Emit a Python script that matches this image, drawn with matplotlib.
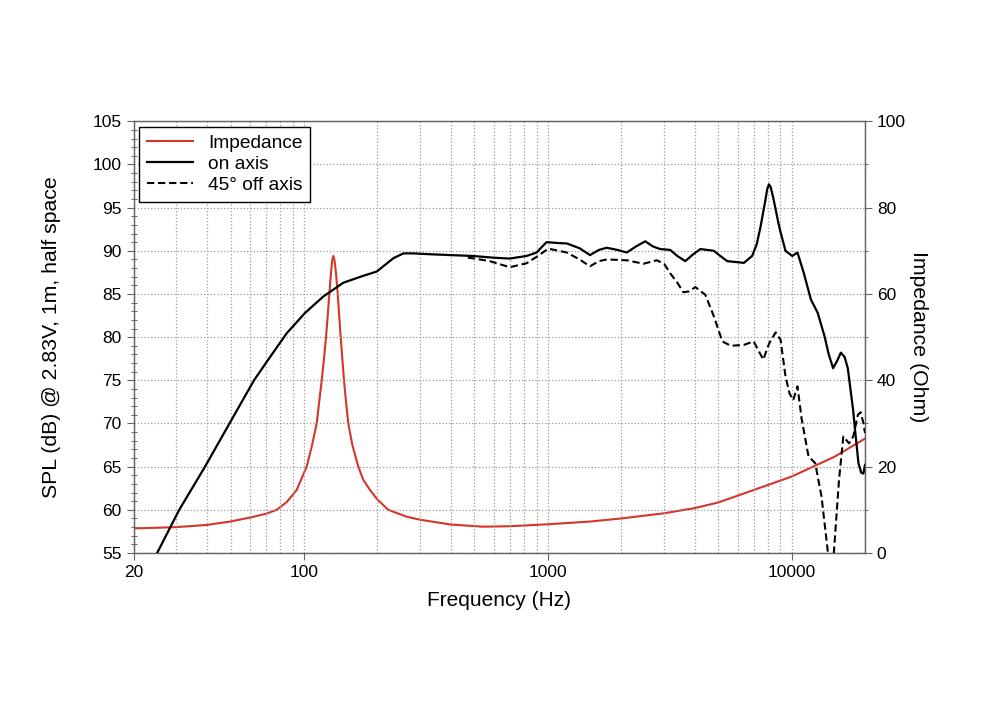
import matplotlib
matplotlib.use("Agg")
import matplotlib.pyplot as plt
from matplotlib.ticker import FixedLocator, LogLocator, MultipleLocator, NullFormatter
from matplotlib.lines import Line2D

plt.rcParams['font.family'] = ['Liberation Sans', 'DejaVu Sans']

# impedance (Ohm), right axis
imp_freq = [20, 25, 30, 40, 50, 60, 70, 77.3, 85, 93.4, 102.6, 107.5, 112.8, 115.5, 118.3,
            120.8, 123.2, 125.2, 127.1, 129.1, 130.6, 132, 133.5, 135.4, 137.6, 139.5,
            141.5, 143.7, 146, 148.8, 152, 158, 167.1, 175, 186.6, 200, 221.8, 263.9,
            300, 400, 540, 700, 1000, 1500, 2000, 3000, 4000, 5000, 7000, 10000, 15000, 20000]
imp_ohm = [5.7, 5.85, 6.0, 6.5, 7.3, 8.2, 9.1, 10, 11.8, 14.6, 20, 24.5, 30, 35, 40,
           45, 50, 55, 60, 64.8, 67.8, 68.8, 67.8, 64.8, 60, 55,
           50, 45, 40, 35, 30, 25, 20, 17, 14.6, 12.4, 10, 8.4,
           7.7, 6.6, 6.1, 6.2, 6.65, 7.3, 8.0, 9.2, 10.4, 11.7, 14.6, 17.7, 22.3, 26.5]

# on axis SPL (dB)
on_freq = [23, 25, 30.8, 39.3, 49.5, 62.4, 71.4, 85, 101, 120, 145, 175, 199, 233, 256,
           281, 329, 400, 493, 600, 698, 818, 900, 950, 989, 1100,
           1197, 1350, 1490, 1620, 1746, 1930, 2109, 2300, 2512, 2700, 2892, 3177, 3400,
           3665, 3950, 4228, 4800, 5100, 5447, 5900, 6372, 6890, 7200, 7465, 7800, 7950,
           8077, 8200, 8400, 8600, 8800, 9000, 9440, 10060, 10570, 11200, 12000, 12800,
           13650, 14200, 14800, 15400, 15920, 16500, 17000, 17870, 18200, 18800, 19300,
           19700, 20000]
on_db = [53.3, 55, 60, 65, 70, 75, 77.4, 80.45, 82.8, 84.7, 86.3, 87.1, 87.6, 89.15, 89.7,
         89.7, 89.6, 89.5, 89.4, 89.2, 89.1, 89.4, 89.8, 90.5, 91.0, 90.9,
         90.85, 90.3, 89.5, 90.1, 90.35, 90.1, 89.8, 90.5, 91.1, 90.5, 90.2, 90.1, 89.4,
         88.8, 89.6, 90.2, 90.0, 89.4, 88.8, 88.7, 88.6, 89.4, 90.8, 92.85, 95.8, 97.2,
         97.7, 97.4, 96.2, 94.8, 93.4, 92.2, 90.0, 89.4, 89.8, 87.5, 84.35, 82.8,
         80.1, 78.0, 76.4, 77.3, 78.2, 77.7, 76.4, 71.6, 69.3, 65.4, 64.3,
         64.2, 65.2]

# 45 deg off axis SPL (dB)
off_freq = [470, 501, 578, 698, 818, 900, 1005, 1197, 1350, 1490, 1620, 1746, 2109, 2470,
            2800, 3000, 3177, 3400, 3600, 3800, 4030, 4430, 4800, 5200, 5630, 6370, 6990,
            7300, 7650, 8100, 8600, 9010, 9440, 9800, 10150, 10570, 11000, 11730, 12500,
            13270, 14100, 14500, 14900, 15650, 16300, 17200, 17900, 18700, 19200, 19700, 20000]
off_db = [89.2, 89.1, 88.8, 88.1, 88.55, 89.3, 90.25, 89.8, 89.0, 88.2, 88.8, 89.0, 88.9, 88.5,
          88.9, 88.5, 87.4, 86.3, 85.2, 85.3, 85.8, 84.9, 82.4, 79.5, 79.0, 79.1, 79.5,
          78.5, 77.4, 79.3, 80.55, 79.7, 75.45, 73.5, 72.7, 74.3, 70.5, 66.2, 65.4,
          61.5, 55, 51, 55, 63.5, 68.5, 67.7, 68.5, 71.0, 71.3, 70.05, 68.9]

red = '#d6352c'
spine_c = '#666666'
dash = (3.5, 1.8)

fig = plt.figure(figsize=(10, 7.18), dpi=100)
ax = fig.add_axes([0.1335, 0.2298, 0.7315, 0.6013])
ax2 = ax.twinx()

ax.plot(on_freq, on_db, color='black', lw=1.6, zorder=3)
ax.plot(off_freq, off_db, color='black', lw=1.5, dashes=dash, zorder=3)
ax2.plot(imp_freq, imp_ohm, color=red, lw=1.5)
ax.set_zorder(ax2.get_zorder() + 1)
ax.patch.set_visible(False)

ax.set_xscale('log')
ax.set_xlim(20, 20000)
ax.set_ylim(55, 105)
ax2.set_ylim(0, 100)

ax.xaxis.set_major_locator(FixedLocator([20, 100, 1000, 10000]))
ax.set_xticklabels(['20', '100', '1000', '10000'])
ax.xaxis.set_minor_locator(LogLocator(base=10, subs=[2, 3, 4, 5, 6, 7, 8, 9]))
ax.xaxis.set_minor_formatter(NullFormatter())
ax.yaxis.set_major_locator(MultipleLocator(5))
ax.yaxis.set_minor_locator(MultipleLocator(1))
ax2.yaxis.set_major_locator(MultipleLocator(20))
ax2.yaxis.set_minor_locator(MultipleLocator(10))

ax.grid(True, which='both', axis='x', ls=':', color='#999999', lw=0.9)
ax.grid(True, which='major', axis='y', ls=':', color='#999999', lw=0.9)

ax.tick_params(axis='both', which='major', direction='out', length=5, width=0.8,
               color=spine_c, labelsize=12.5)
ax.tick_params(axis='x', which='minor', length=0)
ax.tick_params(axis='y', which='minor', direction='inout', length=4, width=0.7, color=spine_c)
ax2.tick_params(axis='y', which='major', direction='out', length=5, width=0.8,
                color=spine_c, labelsize=12.5)
ax2.tick_params(axis='y', which='minor', direction='out', length=2.5, width=0.7, color=spine_c)

for a in (ax, ax2):
    for s in a.spines.values():
        s.set_color(spine_c)
        s.set_linewidth(0.9)

ax.set_xlabel('Frequency (Hz)', fontsize=15, labelpad=8)
ax.set_ylabel('SPL (dB) @ 2.83V, 1m, half space', fontsize=15.3, labelpad=23)
ax2.set_ylabel('Impedance (Ohm)', fontsize=15.3, rotation=270, labelpad=16)

handles = [Line2D([], [], color=red, lw=1.5),
           Line2D([], [], color='black', lw=1.6),
           Line2D([], [], color='black', lw=1.5, dashes=dash)]
leg = ax.legend(handles, ['Impedance', 'on axis', '45° off axis'], loc='upper left',
                fontsize=13.8, frameon=True, fancybox=False, edgecolor='black',
                framealpha=1, borderaxespad=0.3, handlelength=2.4, handletextpad=0.8,
                labelspacing=0.18, borderpad=0.4)
leg.get_frame().set_linewidth(1.0)

fig.savefig('out.png', dpi=100)
